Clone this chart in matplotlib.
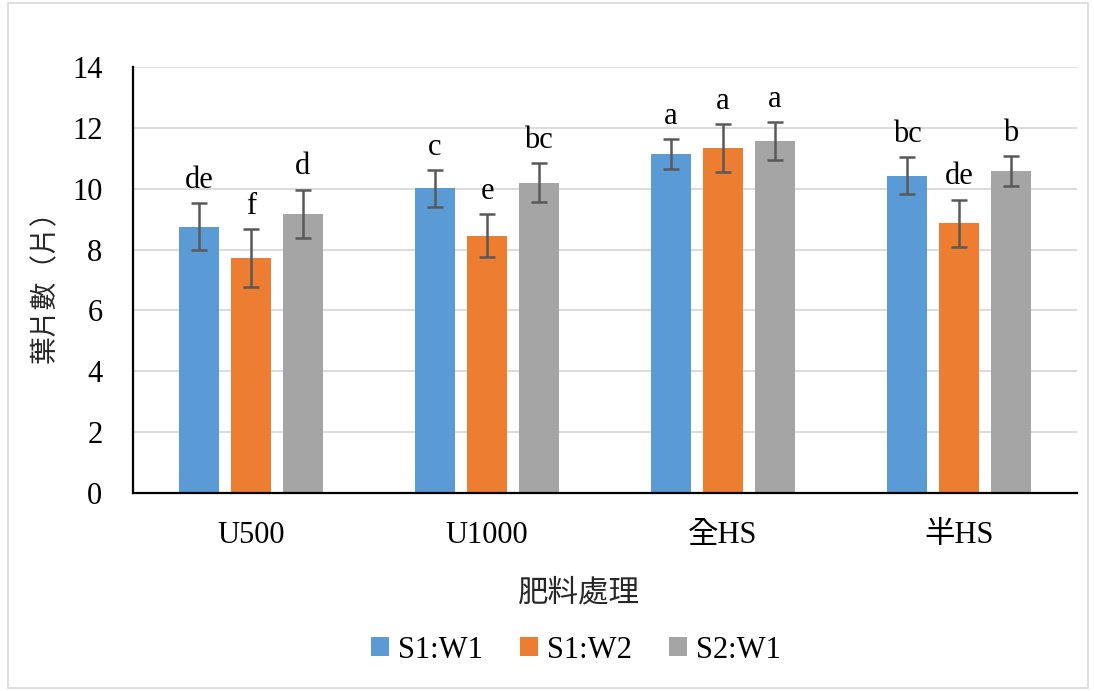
import numpy as np
import matplotlib
matplotlib.use("Agg")
import matplotlib.pyplot as plt
from matplotlib.patches import Rectangle

plt.rcParams['font.family'] = ['Liberation Serif', 'Noto Sans CJK TC', 'DejaVu Sans']

categories = ['U500', 'U1000', '全HS', '半HS']
series = ['S1:W1', 'S1:W2', 'S2:W1']
colors = ['#5B9BD5', '#ED7D31', '#A5A5A5']

# 平均值與誤差
s1w1 = [8.75, 10.01, 11.14, 10.42]
s1w2 = [7.72, 8.45, 11.34, 8.86]
s2w1 = [9.18, 10.20, 11.57, 10.57]
s1w1_err = [0.77, 0.60, 0.48, 0.61]
s1w2_err = [0.95, 0.71, 0.78, 0.78]
s2w1_err = [0.79, 0.65, 0.62, 0.49]

# 顯著性字母
s1w1_lab = ['de', 'c', 'a', 'bc']
s1w2_lab = ['f', 'e', 'a', 'de']
s2w1_lab = ['d', 'bc', 'a', 'b']

values = [s1w1, s1w2, s2w1]
errors = [s1w1_err, s1w2_err, s2w1_err]
labels = [s1w1_lab, s1w2_lab, s2w1_lab]

fig = plt.figure(figsize=(10.94, 6.91), dpi=100)
ax = fig.add_axes([133 / 1094, 1 - 493 / 691, 944 / 1094, 426 / 691])

x = np.arange(len(categories))
width = 0.17
offset = 0.22

for i in range(3):
    pos = x + (i - 1) * offset
    ax.bar(pos, values[i], width, color=colors[i], label=series[i], zorder=2)
    ax.errorbar(pos, values[i], yerr=errors[i], fmt='none', ecolor='#595959',
                elinewidth=1.8, capsize=6, capthick=1.8, zorder=3)
    for j in range(len(categories)):
        ax.annotate(labels[i][j], (pos[j], values[i][j] + errors[i][j]),
                    xytext=(0, 6), textcoords='offset points',
                    ha='center', va='bottom', fontsize=22)

ax.set_xlim(-0.5, 3.5)
ax.set_ylim(0, 14)
ax.set_yticks(range(0, 15, 2))
ax.set_xticks(x)
ax.set_xticklabels(categories, fontsize=22)
ax.tick_params(axis='y', labelsize=22, length=0, pad=22)
ax.tick_params(axis='x', length=0, pad=20)
ax.grid(axis='y', color='#D9D9D9', linewidth=1.3, zorder=0)
ax.set_axisbelow(True)
for s in ['top', 'right']:
    ax.spines[s].set_visible(False)
ax.spines['left'].set_linewidth(1.6)
ax.spines['bottom'].set_linewidth(1.6)

fig.text(45 / 1094, 1 - 280 / 691, '葉片數（片）', rotation=90, ha='center', va='center',
         fontsize=20, family=['Noto Sans CJK TC'], color='#262626')
fig.text(579 / 1094, 1 - 593 / 691, '肥料處理', ha='center', va='center',
         fontsize=22, family=['Noto Sans CJK TC'], color='#262626')

handles, lbls = ax.get_legend_handles_labels()
fig.legend(handles, lbls, loc='center', bbox_to_anchor=(576 / 1094, 1 - 650 / 691),
           ncol=3, frameon=False, fontsize=22, handlelength=0.6, handleheight=0.6,
           handletextpad=0.3, columnspacing=1.2)

fig.patches.append(Rectangle((8 / 1094, 3 / 691), 1080 / 1094, 685 / 691,
                             transform=fig.transFigure, fill=False,
                             edgecolor='#D9D9D9', linewidth=1.2))

fig.savefig('out.png', dpi=100)
